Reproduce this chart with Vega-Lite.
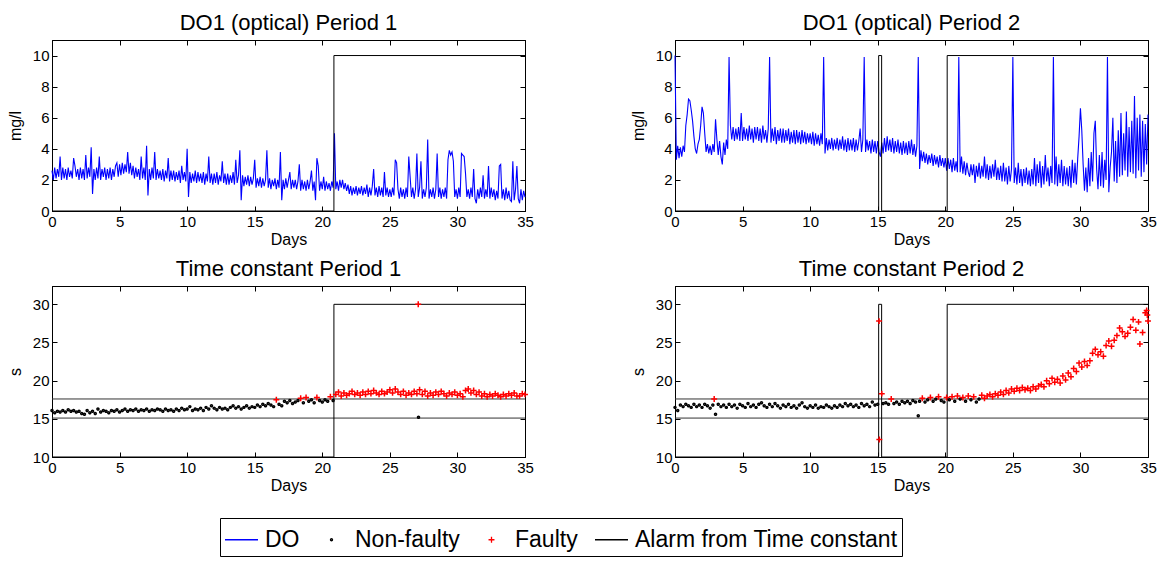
{
"$schema":"https://vega.github.io/schema/vega-lite/v6.json",
"background":"white",
"padding":{"left":6,"top":11,"right":5,"bottom":0},
"config":{
"font":"Liberation Sans",
"view":{"stroke":"#000","strokeWidth":1},
"axis":{"labelFont":"Liberation Sans","labelFontSize":15,"labelColor":"#000","titleFont":"Liberation Sans","titleFontSize":16,"titleFontWeight":"normal","titleColor":"#000","domainColor":"#000","domainWidth":1,"tickColor":"#000","tickSize":-5,"tickWidth":1,"labelPadding":8,"grid":false,"labelFlush":false,"labelOverlap":false},
"axisBottom":{"titleBaseline":"alphabetic","titleY":33},
"axisLeft":{"titleX":-37,"titleBaseline":"middle"},
"title":{"font":"Liberation Sans","fontSize":22,"fontWeight":"normal","color":"#000","offset":5,"baseline":"alphabetic","anchor":"middle"}
},
"datasets":{
"do1":[{"d":0,"v":2.6},{"d":0.1,"v":2.0},{"d":0.2,"v":2.8},{"d":0.3,"v":2.1},{"d":0.4,"v":2.7},{"d":0.5,"v":2.2},{"d":0.6,"v":3.5},{"d":0.7,"v":2.0},{"d":0.8,"v":2.8},{"d":0.9,"v":2.1},
{"d":1,"v":2.7},{"d":1.1,"v":2.0},{"d":1.2,"v":2.8},{"d":1.3,"v":2.2},{"d":1.4,"v":2.6},{"d":1.5,"v":2.1},{"d":1.6,"v":3.4},{"d":1.7,"v":2.9},{"d":1.8,"v":2.2},{"d":1.9,"v":2.7},
{"d":2,"v":2.0},{"d":2.1,"v":2.8},{"d":2.2,"v":2.1},{"d":2.3,"v":2.7},{"d":2.4,"v":2.0},{"d":2.5,"v":3.6},{"d":2.6,"v":2.1},{"d":2.7,"v":2.8},{"d":2.8,"v":2.2},{"d":2.9,"v":4.1},
{"d":3,"v":1.1},{"d":3.1,"v":2.7},{"d":3.2,"v":2.0},{"d":3.3,"v":2.8},{"d":3.4,"v":2.1},{"d":3.5,"v":3.5},{"d":3.6,"v":2.0},{"d":3.7,"v":2.7},{"d":3.8,"v":2.2},{"d":3.9,"v":2.8},
{"d":4,"v":2.0},{"d":4.1,"v":2.7},{"d":4.2,"v":2.1},{"d":4.3,"v":2.8},{"d":4.4,"v":2.0},{"d":4.5,"v":2.7},{"d":4.6,"v":2.2},{"d":4.7,"v":2.9},{"d":4.8,"v":3.1},{"d":4.9,"v":2.2},
{"d":5,"v":3.0},{"d":5.1,"v":2.3},{"d":5.2,"v":3.1},{"d":5.3,"v":2.4},{"d":5.4,"v":3.0},{"d":5.5,"v":2.5},{"d":5.6,"v":3.8},{"d":5.7,"v":2.4},{"d":5.8,"v":3.1},{"d":5.9,"v":2.3},
{"d":6,"v":2.9},{"d":6.1,"v":2.1},{"d":6.2,"v":2.8},{"d":6.3,"v":2.2},{"d":6.4,"v":2.7},{"d":6.5,"v":2.0},{"d":6.6,"v":3.5},{"d":6.7,"v":2.1},{"d":6.8,"v":2.8},{"d":6.9,"v":2.0},
{"d":7,"v":4.2},{"d":7.1,"v":1.0},{"d":7.2,"v":2.7},{"d":7.3,"v":2.0},{"d":7.4,"v":2.8},{"d":7.5,"v":2.1},{"d":7.6,"v":3.8},{"d":7.7,"v":2.0},{"d":7.8,"v":2.7},{"d":7.9,"v":2.1},
{"d":8,"v":2.6},{"d":8.1,"v":2.0},{"d":8.2,"v":2.7},{"d":8.3,"v":1.9},{"d":8.4,"v":2.6},{"d":8.5,"v":2.1},{"d":8.6,"v":3.4},{"d":8.7,"v":1.9},{"d":8.8,"v":2.6},{"d":8.9,"v":2.0},
{"d":9,"v":2.6},{"d":9.1,"v":1.9},{"d":9.2,"v":2.5},{"d":9.3,"v":2.0},{"d":9.4,"v":2.6},{"d":9.5,"v":1.8},{"d":9.6,"v":2.9},{"d":9.7,"v":2.0},{"d":9.8,"v":2.5},{"d":9.9,"v":1.9},
{"d":10,"v":4.0},{"d":10.1,"v":0.9},{"d":10.2,"v":2.5},{"d":10.3,"v":1.8},{"d":10.4,"v":2.4},{"d":10.5,"v":1.9},{"d":10.6,"v":2.6},{"d":10.7,"v":1.8},{"d":10.8,"v":2.5},{"d":10.9,"v":1.9},
{"d":11,"v":2.4},{"d":11.1,"v":1.8},{"d":11.2,"v":2.5},{"d":11.3,"v":1.7},{"d":11.4,"v":2.4},{"d":11.5,"v":1.9},{"d":11.6,"v":3.5},{"d":11.7,"v":1.8},{"d":11.8,"v":2.4},{"d":11.9,"v":1.7},
{"d":12,"v":2.4},{"d":12.1,"v":1.8},{"d":12.2,"v":2.5},{"d":12.3,"v":1.7},{"d":12.4,"v":2.3},{"d":12.5,"v":1.9},{"d":12.6,"v":3.2},{"d":12.7,"v":1.8},{"d":12.8,"v":2.4},{"d":12.9,"v":1.7},
{"d":13,"v":2.4},{"d":13.1,"v":1.7},{"d":13.2,"v":2.3},{"d":13.3,"v":1.8},{"d":13.4,"v":2.5},{"d":13.5,"v":1.7},{"d":13.6,"v":3.3},{"d":13.7,"v":1.8},{"d":13.8,"v":2.3},{"d":13.9,"v":3.9},
{"d":14,"v":0.7},{"d":14.1,"v":2.3},{"d":14.2,"v":1.6},{"d":14.3,"v":2.2},{"d":14.4,"v":1.7},{"d":14.5,"v":2.3},{"d":14.6,"v":1.6},{"d":14.7,"v":2.2},{"d":14.8,"v":1.7},{"d":14.9,"v":2.1},
{"d":15,"v":3.3},{"d":15.1,"v":1.5},{"d":15.2,"v":2.1},{"d":15.3,"v":1.6},{"d":15.4,"v":2.2},{"d":15.5,"v":1.5},{"d":15.6,"v":2.1},{"d":15.7,"v":1.6},{"d":15.8,"v":2.0},{"d":15.9,"v":3.9},
{"d":16,"v":1.5},{"d":16.1,"v":2.1},{"d":16.2,"v":1.4},{"d":16.3,"v":2.0},{"d":16.4,"v":1.6},{"d":16.5,"v":2.1},{"d":16.6,"v":1.4},{"d":16.7,"v":2.0},{"d":16.8,"v":1.5},{"d":16.9,"v":3.8},
{"d":17,"v":0.7},{"d":17.1,"v":2.0},{"d":17.2,"v":1.4},{"d":17.3,"v":2.1},{"d":17.4,"v":1.5},{"d":17.5,"v":2.0},{"d":17.6,"v":2.5},{"d":17.7,"v":1.4},{"d":17.8,"v":2.0},{"d":17.9,"v":1.5},
{"d":18,"v":2.0},{"d":18.1,"v":1.4},{"d":18.2,"v":1.9},{"d":18.3,"v":3.0},{"d":18.4,"v":1.3},{"d":18.5,"v":2.0},{"d":18.6,"v":1.4},{"d":18.7,"v":1.9},{"d":18.8,"v":1.3},{"d":18.9,"v":2.0},
{"d":19,"v":1.4},{"d":19.1,"v":1.9},{"d":19.2,"v":2.6},{"d":19.3,"v":1.3},{"d":19.4,"v":1.9},{"d":19.5,"v":0.7},{"d":19.6,"v":3.4},{"d":19.7,"v":2.9},{"d":19.8,"v":1.3},{"d":19.9,"v":1.9},
{"d":20,"v":1.4},{"d":20.1,"v":2.2},{"d":20.2,"v":1.3},{"d":20.3,"v":1.9},{"d":20.4,"v":1.4},{"d":20.5,"v":1.8},{"d":20.6,"v":1.3},{"d":20.7,"v":1.9},{"d":20.8,"v":1.5},{"d":20.9,"v":5.0},
{"d":21,"v":1.4},{"d":21.1,"v":1.9},{"d":21.2,"v":1.3},{"d":21.3,"v":2.0},{"d":21.4,"v":1.5},{"d":21.5,"v":2.0},{"d":21.6,"v":1.4},{"d":21.7,"v":1.8},{"d":21.8,"v":1.3},{"d":21.9,"v":1.7},
{"d":22,"v":1.1},{"d":22.1,"v":1.6},{"d":22.2,"v":1.0},{"d":22.3,"v":1.5},{"d":22.4,"v":1.1},{"d":22.5,"v":1.6},{"d":22.6,"v":1.0},{"d":22.7,"v":1.5},{"d":22.8,"v":1.1},{"d":22.9,"v":1.6},
{"d":23,"v":1.0},{"d":23.1,"v":1.5},{"d":23.2,"v":1.1},{"d":23.3,"v":1.7},{"d":23.4,"v":0.9},{"d":23.5,"v":1.5},{"d":23.6,"v":1.0},{"d":23.7,"v":1.6},{"d":23.8,"v":2.7},{"d":23.9,"v":1.0},
{"d":24,"v":1.5},{"d":24.1,"v":0.9},{"d":24.2,"v":1.6},{"d":24.3,"v":1.0},{"d":24.4,"v":1.5},{"d":24.5,"v":0.9},{"d":24.6,"v":2.5},{"d":24.7,"v":1.0},{"d":24.8,"v":1.5},{"d":24.9,"v":0.9},
{"d":25,"v":1.4},{"d":25.1,"v":0.9},{"d":25.2,"v":1.5},{"d":25.3,"v":1.0},{"d":25.4,"v":3.3},{"d":25.5,"v":3.1},{"d":25.6,"v":1.4},{"d":25.7,"v":0.8},{"d":25.8,"v":1.5},{"d":25.9,"v":0.9},
{"d":26,"v":1.4},{"d":26.1,"v":0.8},{"d":26.2,"v":1.5},{"d":26.3,"v":0.9},{"d":26.4,"v":3.5},{"d":26.5,"v":2.2},{"d":26.6,"v":0.9},{"d":26.7,"v":1.5},{"d":26.8,"v":0.8},{"d":26.9,"v":1.4},
{"d":27,"v":3.7},{"d":27.1,"v":0.9},{"d":27.2,"v":1.5},{"d":27.3,"v":3.2},{"d":27.4,"v":0.8},{"d":27.5,"v":1.4},{"d":27.6,"v":0.9},{"d":27.7,"v":1.5},{"d":27.8,"v":4.6},{"d":27.9,"v":0.8},
{"d":28,"v":1.4},{"d":28.1,"v":0.9},{"d":28.2,"v":1.5},{"d":28.3,"v":0.8},{"d":28.4,"v":1.4},{"d":28.5,"v":3.7},{"d":28.6,"v":0.9},{"d":28.7,"v":1.5},{"d":28.8,"v":0.8},{"d":28.9,"v":1.4},
{"d":29,"v":0.9},{"d":29.1,"v":1.5},{"d":29.2,"v":0.8},{"d":29.3,"v":3.3},{"d":29.4,"v":3.9},{"d":29.5,"v":3.6},{"d":29.6,"v":3.8},{"d":29.7,"v":3.2},{"d":29.8,"v":0.9},{"d":29.9,"v":1.4},
{"d":30,"v":0.8},{"d":30.1,"v":1.5},{"d":30.2,"v":0.9},{"d":30.3,"v":3.7},{"d":30.4,"v":3.6},{"d":30.5,"v":3.5},{"d":30.6,"v":2.4},{"d":30.7,"v":0.9},{"d":30.8,"v":1.4},{"d":30.9,"v":0.8},
{"d":31,"v":1.5},{"d":31.1,"v":0.9},{"d":31.2,"v":2.7},{"d":31.3,"v":0.8},{"d":31.4,"v":0.5},{"d":31.5,"v":1.4},{"d":31.6,"v":0.8},{"d":31.7,"v":1.5},{"d":31.8,"v":0.9},{"d":31.9,"v":2.3},
{"d":32,"v":0.8},{"d":32.1,"v":1.4},{"d":32.2,"v":0.9},{"d":32.3,"v":2.9},{"d":32.4,"v":0.8},{"d":32.5,"v":1.5},{"d":32.6,"v":0.9},{"d":32.7,"v":1.4},{"d":32.8,"v":0.7},{"d":32.9,"v":1.3},
{"d":33,"v":0.8},{"d":33.1,"v":2.9},{"d":33.2,"v":3.0},{"d":33.3,"v":0.8},{"d":33.4,"v":1.4},{"d":33.5,"v":0.7},{"d":33.6,"v":1.5},{"d":33.7,"v":0.8},{"d":33.8,"v":1.3},{"d":33.9,"v":0.7},
{"d":34,"v":0.6},{"d":34.1,"v":3.2},{"d":34.2,"v":0.7},{"d":34.3,"v":1.4},{"d":34.4,"v":2.9},{"d":34.5,"v":0.8},{"d":34.6,"v":0.5},{"d":34.7,"v":1.4},{"d":34.8,"v":0.7},{"d":34.9,"v":1.3},{"d":35,"v":0.9}],
"do2":[{"d":0,"v":10},{"d":0.1,"v":3.3},{"d":0.2,"v":4.2},{"d":0.3,"v":3.4},{"d":0.4,"v":4.1},{"d":0.5,"v":3.5},{"d":0.6,"v":4.2},{"d":0.7,"v":3.8},{"d":0.8,"v":5.5},{"d":0.9,"v":6.2},
{"d":1,"v":7.2},{"d":1.1,"v":7.1},{"d":1.2,"v":6.5},{"d":1.3,"v":5.8},{"d":1.4,"v":4.8},{"d":1.5,"v":4.0},{"d":1.6,"v":3.7},{"d":1.7,"v":4.3},{"d":1.8,"v":4.6},{"d":1.9,"v":5.5},
{"d":2,"v":6.7},{"d":2.1,"v":6.3},{"d":2.2,"v":5.0},{"d":2.3,"v":3.8},{"d":2.4,"v":4.3},{"d":2.5,"v":3.7},{"d":2.6,"v":4.2},{"d":2.7,"v":3.6},{"d":2.8,"v":4.3},{"d":2.9,"v":3.8},
{"d":3,"v":5.9},{"d":3.1,"v":4.6},{"d":3.2,"v":3.6},{"d":3.3,"v":4.5},{"d":3.4,"v":3.5},{"d":3.5,"v":3.0},{"d":3.6,"v":4.4},{"d":3.7,"v":3.6},{"d":3.8,"v":4.6},{"d":3.9,"v":4.0},
{"d":4,"v":9.9},{"d":4.1,"v":5.5},{"d":4.2,"v":4.6},{"d":4.3,"v":5.4},{"d":4.4,"v":4.5},{"d":4.5,"v":5.3},{"d":4.6,"v":4.6},{"d":4.7,"v":5.4},{"d":4.8,"v":4.5},{"d":4.9,"v":6.3},
{"d":5,"v":4.5},{"d":5.1,"v":5.4},{"d":5.2,"v":4.6},{"d":5.3,"v":5.3},{"d":5.4,"v":4.5},{"d":5.5,"v":5.5},{"d":5.6,"v":4.6},{"d":5.7,"v":5.3},{"d":5.8,"v":4.4},{"d":5.9,"v":5.4},
{"d":6,"v":4.6},{"d":6.1,"v":5.4},{"d":6.2,"v":4.5},{"d":6.3,"v":5.3},{"d":6.4,"v":4.4},{"d":6.5,"v":5.5},{"d":6.6,"v":4.6},{"d":6.7,"v":5.2},{"d":6.8,"v":4.4},{"d":6.9,"v":5.3},
{"d":7,"v":9.9},{"d":7.1,"v":4.4},{"d":7.2,"v":5.3},{"d":7.3,"v":4.5},{"d":7.4,"v":5.4},{"d":7.5,"v":4.3},{"d":7.6,"v":5.2},{"d":7.7,"v":4.5},{"d":7.8,"v":5.3},{"d":7.9,"v":4.4},
{"d":8,"v":5.3},{"d":8.1,"v":4.4},{"d":8.2,"v":5.2},{"d":8.3,"v":4.5},{"d":8.4,"v":5.3},{"d":8.5,"v":4.3},{"d":8.6,"v":5.1},{"d":8.7,"v":4.4},{"d":8.8,"v":5.2},{"d":8.9,"v":4.3},
{"d":9,"v":5.2},{"d":9.1,"v":4.4},{"d":9.2,"v":5.1},{"d":9.3,"v":4.3},{"d":9.4,"v":5.2},{"d":9.5,"v":4.4},{"d":9.6,"v":5.1},{"d":9.7,"v":4.3},{"d":9.8,"v":5.0},{"d":9.9,"v":4.4},
{"d":10,"v":5.0},{"d":10.1,"v":4.3},{"d":10.2,"v":5.1},{"d":10.3,"v":4.2},{"d":10.4,"v":5.0},{"d":10.5,"v":4.3},{"d":10.6,"v":4.9},{"d":10.7,"v":4.2},{"d":10.8,"v":5.0},{"d":10.9,"v":4.3},
{"d":11,"v":9.9},{"d":11.1,"v":3.7},{"d":11.2,"v":4.7},{"d":11.3,"v":3.9},{"d":11.4,"v":4.6},{"d":11.5,"v":4.0},{"d":11.6,"v":4.7},{"d":11.7,"v":3.9},{"d":11.8,"v":4.6},{"d":11.9,"v":4.0},
{"d":12,"v":4.7},{"d":12.1,"v":3.9},{"d":12.2,"v":4.6},{"d":12.3,"v":4.0},{"d":12.4,"v":4.8},{"d":12.5,"v":3.9},{"d":12.6,"v":4.6},{"d":12.7,"v":3.8},{"d":12.8,"v":4.7},{"d":12.9,"v":3.9},
{"d":13,"v":4.6},{"d":13.1,"v":3.9},{"d":13.2,"v":4.7},{"d":13.3,"v":3.8},{"d":13.4,"v":4.6},{"d":13.5,"v":3.9},{"d":13.6,"v":4.5},{"d":13.7,"v":5.3},{"d":13.8,"v":3.8},{"d":13.9,"v":4.6},
{"d":14,"v":9.9},{"d":14.1,"v":3.8},{"d":14.2,"v":4.6},{"d":14.3,"v":3.9},{"d":14.4,"v":4.5},{"d":14.5,"v":3.7},{"d":14.6,"v":4.6},{"d":14.7,"v":3.8},{"d":14.8,"v":4.5},{"d":14.9,"v":3.7},
{"d":15,"v":4.5},{"d":15.1,"v":3.8},{"d":15.2,"v":3.5},{"d":15.3,"v":4.4},{"d":15.4,"v":3.7},{"d":15.5,"v":4.7},{"d":15.6,"v":3.8},{"d":15.7,"v":4.8},{"d":15.8,"v":3.9},{"d":15.9,"v":4.6},
{"d":16,"v":3.8},{"d":16.1,"v":4.7},{"d":16.2,"v":3.7},{"d":16.3,"v":4.5},{"d":16.4,"v":3.8},{"d":16.5,"v":4.6},{"d":16.6,"v":3.7},{"d":16.7,"v":4.4},{"d":16.8,"v":3.6},{"d":16.9,"v":4.5},
{"d":17,"v":3.7},{"d":17.1,"v":4.4},{"d":17.2,"v":3.6},{"d":17.3,"v":4.5},{"d":17.4,"v":3.7},{"d":17.5,"v":4.6},{"d":17.6,"v":3.6},{"d":17.7,"v":4.3},{"d":17.8,"v":3.5},{"d":17.9,"v":4.2},
{"d":18,"v":9.9},{"d":18.1,"v":2.7},{"d":18.2,"v":3.9},{"d":18.3,"v":3.2},{"d":18.4,"v":3.8},{"d":18.5,"v":3.1},{"d":18.6,"v":3.7},{"d":18.7,"v":3.0},{"d":18.8,"v":3.6},{"d":18.9,"v":3.1},
{"d":19,"v":3.7},{"d":19.1,"v":2.9},{"d":19.2,"v":3.6},{"d":19.3,"v":3.0},{"d":19.4,"v":3.5},{"d":19.5,"v":2.8},{"d":19.6,"v":3.6},{"d":19.7,"v":2.9},{"d":19.8,"v":3.4},{"d":19.9,"v":2.8},
{"d":20,"v":3.4},{"d":20.1,"v":2.6},{"d":20.2,"v":3.4},{"d":20.3,"v":2.7},{"d":20.4,"v":3.3},{"d":20.5,"v":2.5},{"d":20.6,"v":3.4},{"d":20.7,"v":2.6},{"d":20.8,"v":3.2},{"d":20.9,"v":2.5},
{"d":21,"v":9.9},{"d":21.1,"v":2.5},{"d":21.2,"v":3.5},{"d":21.3,"v":2.4},{"d":21.4,"v":3.2},{"d":21.5,"v":2.3},{"d":21.6,"v":3.1},{"d":21.7,"v":2.5},{"d":21.8,"v":2.2},{"d":21.9,"v":3.0},
{"d":22,"v":2.3},{"d":22.1,"v":3.0},{"d":22.2,"v":1.8},{"d":22.3,"v":2.9},{"d":22.4,"v":2.2},{"d":22.5,"v":3.1},{"d":22.6,"v":2.1},{"d":22.7,"v":2.9},{"d":22.8,"v":2.2},{"d":22.9,"v":3.5},
{"d":23,"v":2.1},{"d":23.1,"v":3.0},{"d":23.2,"v":2.0},{"d":23.3,"v":2.9},{"d":23.4,"v":2.1},{"d":23.5,"v":3.0},{"d":23.6,"v":2.2},{"d":23.7,"v":3.3},{"d":23.8,"v":2.0},{"d":23.9,"v":2.8},
{"d":24,"v":2.0},{"d":24.1,"v":2.9},{"d":24.2,"v":1.9},{"d":24.3,"v":3.1},{"d":24.4,"v":1.9},{"d":24.5,"v":2.8},{"d":24.6,"v":1.7},{"d":24.7,"v":2.9},{"d":24.8,"v":1.9},{"d":24.9,"v":2.7},
{"d":25,"v":9.9},{"d":25.1,"v":1.8},{"d":25.2,"v":2.8},{"d":25.3,"v":1.7},{"d":25.4,"v":3.1},{"d":25.5,"v":1.8},{"d":25.6,"v":2.7},{"d":25.7,"v":1.6},{"d":25.8,"v":2.7},{"d":25.9,"v":1.8},
{"d":26,"v":2.8},{"d":26.1,"v":1.7},{"d":26.2,"v":2.6},{"d":26.3,"v":1.6},{"d":26.4,"v":2.7},{"d":26.5,"v":1.7},{"d":26.6,"v":3.4},{"d":26.7,"v":1.6},{"d":26.8,"v":3.0},{"d":26.9,"v":1.8},
{"d":27,"v":3.2},{"d":27.1,"v":1.5},{"d":27.2,"v":2.9},{"d":27.3,"v":1.7},{"d":27.4,"v":3.6},{"d":27.5,"v":1.9},{"d":27.6,"v":2.8},{"d":27.7,"v":1.6},{"d":27.8,"v":2.9},{"d":27.9,"v":1.8},
{"d":28,"v":9.9},{"d":28.1,"v":1.7},{"d":28.2,"v":3.5},{"d":28.3,"v":1.6},{"d":28.4,"v":3.0},{"d":28.5,"v":1.8},{"d":28.6,"v":3.3},{"d":28.7,"v":1.6},{"d":28.8,"v":2.9},{"d":28.9,"v":1.7},
{"d":29,"v":2.8},{"d":29.1,"v":1.6},{"d":29.2,"v":2.9},{"d":29.3,"v":1.5},{"d":29.4,"v":3.3},{"d":29.5,"v":1.8},{"d":29.6,"v":3.1},{"d":29.7,"v":1.7},{"d":29.8,"v":3.4},{"d":29.9,"v":4.8},
{"d":30,"v":6.6},{"d":30.1,"v":5.2},{"d":30.2,"v":3.0},{"d":30.3,"v":1.3},{"d":30.4,"v":2.8},{"d":30.5,"v":1.2},{"d":30.6,"v":3.4},{"d":30.7,"v":1.6},{"d":30.8,"v":3.8},{"d":30.9,"v":1.9},
{"d":31,"v":5.0},{"d":31.1,"v":5.8},{"d":31.2,"v":2.7},{"d":31.3,"v":1.4},{"d":31.4,"v":3.6},{"d":31.5,"v":1.6},{"d":31.6,"v":3.8},{"d":31.7,"v":1.5},{"d":31.8,"v":3.3},{"d":31.9,"v":2.0},
{"d":32,"v":9.9},{"d":32.1,"v":1.2},{"d":32.2,"v":2.8},{"d":32.3,"v":3.8},{"d":32.4,"v":6.0},{"d":32.5,"v":1.9},{"d":32.6,"v":4.5},{"d":32.7,"v":1.8},{"d":32.8,"v":5.2},{"d":32.9,"v":2.2},
{"d":33,"v":6.3},{"d":33.1,"v":2.3},{"d":33.2,"v":5.0},{"d":33.3,"v":2.6},{"d":33.4,"v":6.4},{"d":33.5,"v":2.2},{"d":33.6,"v":5.4},{"d":33.7,"v":2.5},{"d":33.8,"v":5.8},{"d":33.9,"v":2.4},
{"d":34,"v":7.4},{"d":34.1,"v":2.1},{"d":34.2,"v":6.0},{"d":34.3,"v":2.6},{"d":34.4,"v":6.2},{"d":34.5,"v":2.2},{"d":34.6,"v":5.8},{"d":34.7,"v":2.5},{"d":34.8,"v":5.6},{"d":34.9,"v":3.0},{"d":35,"v":6.2}],
"tc1":[{"d":0,"v":16.1,"s":"N"},{"d":0.2,"v":15.8,"s":"N"},{"d":0.4,"v":16.0,"s":"N"},{"d":0.6,"v":15.9,"s":"N"},{"d":0.8,"v":16.1,"s":"N"},{"d":1,"v":15.9,"s":"N"},{"d":1.2,"v":16.2,"s":"N"},{"d":1.4,"v":16.0,"s":"N"},{"d":1.6,"v":16.1,"s":"N"},{"d":1.8,"v":15.9,"s":"N"},
{"d":2,"v":16.0,"s":"N"},{"d":2.2,"v":15.7,"s":"N"},{"d":2.4,"v":15.6,"s":"N"},{"d":2.6,"v":16.1,"s":"N"},{"d":2.8,"v":15.8,"s":"N"},{"d":3,"v":16.0,"s":"N"},{"d":3.2,"v":15.7,"s":"N"},{"d":3.4,"v":16.3,"s":"N"},{"d":3.6,"v":15.9,"s":"N"},{"d":3.8,"v":16.1,"s":"N"},
{"d":4,"v":16.0,"s":"N"},{"d":4.2,"v":15.8,"s":"N"},{"d":4.4,"v":16.1,"s":"N"},{"d":4.6,"v":16.0,"s":"N"},{"d":4.8,"v":16.2,"s":"N"},{"d":5,"v":15.9,"s":"N"},{"d":5.2,"v":16.1,"s":"N"},{"d":5.4,"v":16.3,"s":"N"},{"d":5.6,"v":16.0,"s":"N"},{"d":5.8,"v":16.2,"s":"N"},
{"d":6,"v":16.1,"s":"N"},{"d":6.2,"v":16.3,"s":"N"},{"d":6.4,"v":16.0,"s":"N"},{"d":6.6,"v":16.2,"s":"N"},{"d":6.8,"v":16.1,"s":"N"},{"d":7,"v":16.3,"s":"N"},{"d":7.2,"v":16.0,"s":"N"},{"d":7.4,"v":16.2,"s":"N"},{"d":7.6,"v":16.1,"s":"N"},{"d":7.8,"v":16.3,"s":"N"},
{"d":8,"v":16.2,"s":"N"},{"d":8.2,"v":16.0,"s":"N"},{"d":8.4,"v":16.3,"s":"N"},{"d":8.6,"v":16.1,"s":"N"},{"d":8.8,"v":16.2,"s":"N"},{"d":9,"v":16.0,"s":"N"},{"d":9.2,"v":16.3,"s":"N"},{"d":9.4,"v":16.1,"s":"N"},{"d":9.6,"v":16.4,"s":"N"},{"d":9.8,"v":16.2,"s":"N"},
{"d":10,"v":16.3,"s":"N"},{"d":10.2,"v":16.6,"s":"N"},{"d":10.4,"v":16.1,"s":"N"},{"d":10.6,"v":16.3,"s":"N"},{"d":10.8,"v":16.2,"s":"N"},{"d":11,"v":16.4,"s":"N"},{"d":11.2,"v":16.1,"s":"N"},{"d":11.4,"v":16.5,"s":"N"},{"d":11.6,"v":16.3,"s":"N"},{"d":11.8,"v":16.7,"s":"N"},
{"d":12,"v":16.4,"s":"N"},{"d":12.2,"v":16.2,"s":"N"},{"d":12.4,"v":16.5,"s":"N"},{"d":12.6,"v":16.3,"s":"N"},{"d":12.8,"v":16.4,"s":"N"},{"d":13,"v":16.2,"s":"N"},{"d":13.2,"v":16.5,"s":"N"},{"d":13.4,"v":16.7,"s":"N"},{"d":13.6,"v":16.4,"s":"N"},{"d":13.8,"v":16.6,"s":"N"},
{"d":14,"v":16.3,"s":"N"},{"d":14.2,"v":16.5,"s":"N"},{"d":14.4,"v":16.7,"s":"N"},{"d":14.6,"v":16.4,"s":"N"},{"d":14.8,"v":16.6,"s":"N"},{"d":15,"v":16.5,"s":"N"},{"d":15.2,"v":16.8,"s":"N"},{"d":15.4,"v":16.6,"s":"N"},{"d":15.6,"v":16.9,"s":"N"},{"d":15.8,"v":16.7,"s":"N"},
{"d":16,"v":17.0,"s":"N"},{"d":16.2,"v":16.8,"s":"N"},{"d":16.4,"v":16.6,"s":"N"},{"d":16.6,"v":17.5,"s":"F"},{"d":16.8,"v":16.9,"s":"N"},{"d":17,"v":16.7,"s":"N"},{"d":17.2,"v":17.3,"s":"N"},{"d":17.4,"v":17.1,"s":"N"},{"d":17.6,"v":17.4,"s":"N"},{"d":17.8,"v":17.0,"s":"N"},
{"d":18,"v":17.2,"s":"N"},{"d":18.2,"v":17.4,"s":"N"},{"d":18.4,"v":17.7,"s":"F"},{"d":18.6,"v":17.1,"s":"N"},{"d":18.8,"v":17.8,"s":"F"},{"d":19,"v":17.3,"s":"N"},{"d":19.2,"v":17.5,"s":"N"},{"d":19.4,"v":17.1,"s":"N"},{"d":19.6,"v":17.8,"s":"F"},{"d":19.8,"v":17.4,"s":"N"},
{"d":20,"v":17.2,"s":"N"},{"d":20.2,"v":17.5,"s":"N"},{"d":20.4,"v":17.3,"s":"N"},{"d":20.6,"v":17.9,"s":"F"},{"d":20.8,"v":17.4,"s":"N"},{"d":21,"v":18.2,"s":"F"},{"d":21.2,"v":18.5,"s":"F"},{"d":21.4,"v":18.0,"s":"F"},{"d":21.6,"v":18.4,"s":"F"},{"d":21.8,"v":18.1,"s":"F"},
{"d":22,"v":18.3,"s":"F"},{"d":22.2,"v":18.6,"s":"F"},{"d":22.4,"v":18.2,"s":"F"},{"d":22.6,"v":18.4,"s":"F"},{"d":22.8,"v":18.1,"s":"F"},{"d":23,"v":18.5,"s":"F"},{"d":23.2,"v":18.2,"s":"F"},{"d":23.4,"v":18.6,"s":"F"},{"d":23.6,"v":18.3,"s":"F"},{"d":23.8,"v":18.7,"s":"F"},
{"d":24,"v":18.4,"s":"F"},{"d":24.2,"v":18.2,"s":"F"},{"d":24.4,"v":18.6,"s":"F"},{"d":24.6,"v":18.3,"s":"F"},{"d":24.8,"v":18.5,"s":"F"},{"d":25,"v":18.8,"s":"F"},{"d":25.2,"v":18.4,"s":"F"},{"d":25.4,"v":18.9,"s":"F"},{"d":25.6,"v":18.5,"s":"F"},{"d":25.8,"v":18.2,"s":"F"},
{"d":26,"v":18.6,"s":"F"},{"d":26.2,"v":18.1,"s":"F"},{"d":26.4,"v":18.4,"s":"F"},{"d":26.6,"v":18.2,"s":"F"},{"d":26.8,"v":18.6,"s":"F"},{"d":27,"v":18.3,"s":"F"},{"d":27.1,"v":30.0,"s":"F"},{"d":27.12,"v":15.2,"s":"N"},{"d":27.2,"v":18.8,"s":"F"},{"d":27.4,"v":18.2,"s":"F"},{"d":27.6,"v":18.6,"s":"F"},{"d":27.8,"v":18.0,"s":"F"},
{"d":28,"v":18.4,"s":"F"},{"d":28.2,"v":18.1,"s":"F"},{"d":28.4,"v":18.5,"s":"F"},{"d":28.6,"v":18.2,"s":"F"},{"d":28.8,"v":18.6,"s":"F"},{"d":29,"v":18.3,"s":"F"},{"d":29.2,"v":18.0,"s":"F"},{"d":29.4,"v":18.4,"s":"F"},{"d":29.6,"v":18.2,"s":"F"},{"d":29.8,"v":18.5,"s":"F"},
{"d":30,"v":18.1,"s":"F"},{"d":30.2,"v":18.3,"s":"F"},{"d":30.4,"v":17.9,"s":"F"},{"d":30.6,"v":18.7,"s":"F"},{"d":30.8,"v":18.9,"s":"F"},{"d":31,"v":18.4,"s":"F"},{"d":31.2,"v":18.7,"s":"F"},{"d":31.4,"v":18.2,"s":"F"},{"d":31.6,"v":18.5,"s":"F"},{"d":31.8,"v":18.0,"s":"F"},
{"d":32,"v":18.3,"s":"F"},{"d":32.2,"v":17.9,"s":"F"},{"d":32.4,"v":18.2,"s":"F"},{"d":32.6,"v":18.0,"s":"F"},{"d":32.8,"v":18.3,"s":"F"},{"d":33,"v":18.1,"s":"F"},{"d":33.2,"v":17.9,"s":"F"},{"d":33.4,"v":18.2,"s":"F"},{"d":33.6,"v":18.0,"s":"F"},{"d":33.8,"v":18.3,"s":"F"},
{"d":34,"v":18.1,"s":"F"},{"d":34.2,"v":18.4,"s":"F"},{"d":34.4,"v":18.0,"s":"F"},{"d":34.6,"v":18.0,"s":"F"},{"d":34.8,"v":18.3,"s":"F"},{"d":35,"v":18.2,"s":"F"}],
"tc2":[{"d":0,"v":16.5,"s":"N"},{"d":0.2,"v":16.1,"s":"N"},{"d":0.4,"v":16.8,"s":"N"},{"d":0.6,"v":16.6,"s":"N"},{"d":0.8,"v":16.9,"s":"N"},{"d":1,"v":16.7,"s":"N"},{"d":1.2,"v":16.5,"s":"N"},{"d":1.4,"v":16.9,"s":"N"},{"d":1.6,"v":16.6,"s":"N"},{"d":1.8,"v":16.8,"s":"N"},
{"d":2,"v":16.5,"s":"N"},{"d":2.2,"v":16.9,"s":"N"},{"d":2.4,"v":16.7,"s":"N"},{"d":2.6,"v":16.4,"s":"N"},{"d":2.8,"v":16.8,"s":"N"},{"d":2.9,"v":17.6,"s":"F"},{"d":3,"v":15.6,"s":"N"},{"d":3.2,"v":16.9,"s":"N"},{"d":3.4,"v":16.6,"s":"N"},{"d":3.6,"v":16.8,"s":"N"},{"d":3.8,"v":16.5,"s":"N"},
{"d":4,"v":16.9,"s":"N"},{"d":4.2,"v":16.6,"s":"N"},{"d":4.4,"v":16.8,"s":"N"},{"d":4.6,"v":16.4,"s":"N"},{"d":4.8,"v":16.9,"s":"N"},{"d":5,"v":16.7,"s":"N"},{"d":5.2,"v":16.5,"s":"N"},{"d":5.4,"v":17.0,"s":"N"},{"d":5.6,"v":16.6,"s":"N"},{"d":5.8,"v":16.8,"s":"N"},
{"d":6,"v":16.5,"s":"N"},{"d":6.2,"v":16.9,"s":"N"},{"d":6.4,"v":17.1,"s":"N"},{"d":6.6,"v":16.7,"s":"N"},{"d":6.8,"v":16.5,"s":"N"},{"d":7,"v":16.9,"s":"N"},{"d":7.2,"v":16.6,"s":"N"},{"d":7.4,"v":17.0,"s":"N"},{"d":7.6,"v":16.7,"s":"N"},{"d":7.8,"v":16.4,"s":"N"},
{"d":8,"v":16.8,"s":"N"},{"d":8.2,"v":16.6,"s":"N"},{"d":8.4,"v":16.9,"s":"N"},{"d":8.6,"v":16.5,"s":"N"},{"d":8.8,"v":16.7,"s":"N"},{"d":9,"v":16.4,"s":"N"},{"d":9.2,"v":16.8,"s":"N"},{"d":9.4,"v":17.1,"s":"N"},{"d":9.6,"v":16.6,"s":"N"},{"d":9.8,"v":16.4,"s":"N"},
{"d":10,"v":16.7,"s":"N"},{"d":10.2,"v":16.5,"s":"N"},{"d":10.4,"v":16.8,"s":"N"},{"d":10.6,"v":16.4,"s":"N"},{"d":10.8,"v":16.6,"s":"N"},{"d":11,"v":16.5,"s":"N"},{"d":11.2,"v":16.8,"s":"N"},{"d":11.4,"v":16.6,"s":"N"},{"d":11.6,"v":16.4,"s":"N"},{"d":11.8,"v":16.7,"s":"N"},
{"d":12,"v":16.5,"s":"N"},{"d":12.2,"v":16.8,"s":"N"},{"d":12.4,"v":16.6,"s":"N"},{"d":12.6,"v":17.0,"s":"N"},{"d":12.8,"v":16.7,"s":"N"},{"d":13,"v":16.9,"s":"N"},{"d":13.2,"v":16.6,"s":"N"},{"d":13.4,"v":16.8,"s":"N"},{"d":13.6,"v":16.5,"s":"N"},{"d":13.8,"v":17.0,"s":"N"},
{"d":14,"v":16.7,"s":"N"},{"d":14.2,"v":16.9,"s":"N"},{"d":14.4,"v":16.6,"s":"N"},{"d":14.6,"v":17.2,"s":"N"},{"d":14.8,"v":16.8,"s":"N"},{"d":15,"v":16.9,"s":"N"},{"d":15.1,"v":27.8,"s":"F"},{"d":15.12,"v":12.3,"s":"F"},{"d":15.3,"v":18.3,"s":"F"},{"d":15.4,"v":17.0,"s":"N"},{"d":15.6,"v":17.1,"s":"N"},{"d":15.8,"v":16.9,"s":"N"},
{"d":16,"v":17.6,"s":"F"},{"d":16.2,"v":17.0,"s":"N"},{"d":16.4,"v":17.2,"s":"N"},{"d":16.6,"v":16.9,"s":"N"},{"d":16.8,"v":17.3,"s":"N"},{"d":17,"v":17.1,"s":"N"},{"d":17.2,"v":17.3,"s":"N"},{"d":17.4,"v":17.0,"s":"N"},{"d":17.6,"v":17.4,"s":"N"},{"d":17.8,"v":17.2,"s":"N"},
{"d":18,"v":15.4,"s":"N"},{"d":18.1,"v":17.3,"s":"N"},{"d":18.3,"v":17.7,"s":"F"},{"d":18.5,"v":17.2,"s":"N"},{"d":18.7,"v":17.5,"s":"N"},{"d":18.9,"v":17.8,"s":"F"},{"d":19.1,"v":17.3,"s":"N"},{"d":19.3,"v":17.6,"s":"N"},{"d":19.5,"v":17.9,"s":"F"},{"d":19.7,"v":17.4,"s":"N"},{"d":19.9,"v":17.2,"s":"N"},
{"d":20.1,"v":17.8,"s":"F"},{"d":20.3,"v":17.5,"s":"N"},{"d":20.5,"v":17.9,"s":"F"},{"d":20.7,"v":17.3,"s":"N"},{"d":20.9,"v":18.0,"s":"F"},{"d":21.1,"v":17.6,"s":"N"},{"d":21.3,"v":17.8,"s":"F"},{"d":21.5,"v":17.3,"s":"N"},{"d":21.7,"v":18.0,"s":"F"},{"d":21.9,"v":17.5,"s":"N"},
{"d":22.1,"v":17.9,"s":"F"},{"d":22.3,"v":17.2,"s":"N"},{"d":22.5,"v":17.6,"s":"N"},{"d":22.7,"v":18.1,"s":"F"},{"d":22.9,"v":17.7,"s":"F"},{"d":23.1,"v":18.0,"s":"F"},{"d":23.3,"v":18.2,"s":"F"},{"d":23.5,"v":17.9,"s":"F"},{"d":23.7,"v":18.3,"s":"F"},{"d":23.9,"v":18.1,"s":"F"},
{"d":24.1,"v":18.5,"s":"F"},{"d":24.3,"v":18.2,"s":"F"},{"d":24.5,"v":18.7,"s":"F"},{"d":24.7,"v":18.4,"s":"F"},{"d":24.9,"v":18.9,"s":"F"},{"d":25.1,"v":18.6,"s":"F"},{"d":25.3,"v":19.0,"s":"F"},{"d":25.5,"v":18.7,"s":"F"},{"d":25.7,"v":19.1,"s":"F"},{"d":25.9,"v":18.8,"s":"F"},
{"d":26.1,"v":19.0,"s":"F"},{"d":26.3,"v":18.7,"s":"F"},{"d":26.5,"v":19.2,"s":"F"},{"d":26.7,"v":18.9,"s":"F"},{"d":26.9,"v":19.3,"s":"F"},{"d":27.1,"v":19.5,"s":"F"},{"d":27.3,"v":19.2,"s":"F"},{"d":27.5,"v":20.0,"s":"F"},{"d":27.7,"v":19.6,"s":"F"},{"d":27.9,"v":20.3,"s":"F"},
{"d":28.1,"v":19.8,"s":"F"},{"d":28.3,"v":20.2,"s":"F"},{"d":28.5,"v":19.7,"s":"F"},{"d":28.7,"v":20.6,"s":"F"},{"d":28.9,"v":20.1,"s":"F"},{"d":29.1,"v":21.0,"s":"F"},{"d":29.3,"v":20.5,"s":"F"},{"d":29.5,"v":21.6,"s":"F"},{"d":29.7,"v":21.2,"s":"F"},{"d":29.9,"v":22.3,"s":"F"},
{"d":30.1,"v":21.8,"s":"F"},{"d":30.3,"v":22.5,"s":"F"},{"d":30.5,"v":22.0,"s":"F"},{"d":30.7,"v":22.6,"s":"F"},{"d":30.9,"v":23.6,"s":"F"},{"d":31.1,"v":24.1,"s":"F"},{"d":31.3,"v":23.4,"s":"F"},{"d":31.5,"v":23.8,"s":"F"},{"d":31.7,"v":23.2,"s":"F"},{"d":31.9,"v":24.6,"s":"F"},
{"d":32.1,"v":25.2,"s":"F"},{"d":32.3,"v":24.5,"s":"F"},{"d":32.5,"v":25.3,"s":"F"},{"d":32.7,"v":25.9,"s":"F"},{"d":32.9,"v":26.9,"s":"F"},{"d":33.1,"v":26.4,"s":"F"},{"d":33.3,"v":25.8,"s":"F"},{"d":33.5,"v":26.2,"s":"F"},{"d":33.7,"v":27.0,"s":"F"},{"d":33.9,"v":28.0,"s":"F"},
{"d":34.1,"v":26.6,"s":"F"},{"d":34.3,"v":27.7,"s":"F"},{"d":34.4,"v":24.8,"s":"F"},{"d":34.6,"v":26.3,"s":"F"},{"d":34.8,"v":28.9,"s":"F"},{"d":34.9,"v":29.2,"s":"F"},{"d":34.95,"v":28.6,"s":"F"},{"d":35,"v":27.8,"s":"F"}],
"at1":[{"d":0,"v":0},{"d":20.86,"v":0},{"d":20.86,"v":10},{"d":35,"v":10}],
"at2":[{"d":0,"v":0},{"d":15.07,"v":0},{"d":15.07,"v":10},{"d":15.29,"v":10},{"d":15.29,"v":0},{"d":20.14,"v":0},{"d":20.14,"v":10},{"d":35,"v":10}],
"ab1":[{"d":0,"v":10},{"d":20.86,"v":10},{"d":20.86,"v":30},{"d":35,"v":30}],
"ab2":[{"d":0,"v":10},{"d":15.07,"v":10},{"d":15.07,"v":30},{"d":15.29,"v":30},{"d":15.29,"v":10},{"d":20.14,"v":10},{"d":20.14,"v":30},{"d":35,"v":30}],
"thr":[{"v":17.6},{"v":15.1}]
},
"bounds":"flush",
"spacing":{"row":75,"column":150},
"columns":2,
"concat":[
{"width":473,"height":171,"title":"DO1 (optical) Period 1",
"resolve":{"axis":{"x":"independent","y":"independent"}},
"layer":[
{"data":{"name":"do1"},"mark":{"type":"line","color":"#0000ff","strokeWidth":1.1},
"encoding":{"x":{"field":"d","type":"quantitative","title":"Days","scale":{"domain":[0,35],"nice":false},"axis":{"orient":"bottom","values":[0,5,10,15,20,25,30,35],"labelOverlap":false}},"y":{"field":"v","type":"quantitative","title":"mg/l","scale":{"domain":[0,11],"nice":false},"axis":{"orient":"left","values":[0,2,4,6,8,10],"labelOverlap":false}},"order":{"value":null}}},
{"data":{"name":"at1"},"mark":{"type":"line","color":"#000","strokeWidth":1},
"encoding":{"x":{"field":"d","type":"quantitative","title":null,"axis":{"orient":"top","values":[0,5,10,15,20,25,30,35],"labels":false}},"y":{"field":"v","type":"quantitative","title":null,"axis":{"orient":"right","values":[0,2,4,6,8,10],"labels":false}},"order":{"value":null}}}
]},
{"width":473,"height":171,"title":"DO1 (optical) Period 2",
"resolve":{"axis":{"x":"independent","y":"independent"}},
"layer":[
{"data":{"name":"do2"},"mark":{"type":"line","color":"#0000ff","strokeWidth":1.1},
"encoding":{"x":{"field":"d","type":"quantitative","title":"Days","scale":{"domain":[0,35],"nice":false},"axis":{"orient":"bottom","values":[0,5,10,15,20,25,30,35],"labelOverlap":false}},"y":{"field":"v","type":"quantitative","title":"mg/l","scale":{"domain":[0,11],"nice":false},"axis":{"orient":"left","values":[0,2,4,6,8,10],"labelOverlap":false}},"order":{"value":null}}},
{"data":{"name":"at2"},"mark":{"type":"line","color":"#000","strokeWidth":1},
"encoding":{"x":{"field":"d","type":"quantitative","title":null,"axis":{"orient":"top","values":[0,5,10,15,20,25,30,35],"labels":false}},"y":{"field":"v","type":"quantitative","title":null,"axis":{"orient":"right","values":[0,2,4,6,8,10],"labels":false}},"order":{"value":null}}}
]},
{"width":473,"height":171,"title":"Time constant Period 1",
"resolve":{"axis":{"x":"independent","y":"independent"}},
"layer":[
{"data":{"name":"thr"},"mark":{"type":"rule","color":"#333","strokeWidth":1},
"encoding":{"y":{"field":"v","type":"quantitative","title":"s","scale":{"domain":[10,32.4],"nice":false},"axis":{"orient":"left","values":[10,15,20,25,30],"labelOverlap":false}}}},
{"data":{"name":"ab1"},"mark":{"type":"line","color":"#000","strokeWidth":1},
"encoding":{"x":{"field":"d","type":"quantitative","title":"Days","scale":{"domain":[0,35],"nice":false},"axis":{"orient":"bottom","values":[0,5,10,15,20,25,30,35],"labelOverlap":false}},"y":{"field":"v","type":"quantitative","axis":null},"order":{"value":null}}},
{"data":{"name":"tc1"},"mark":{"type":"point","filled":false,"strokeWidth":1.5,"opacity":1,"size":1089},
"encoding":{"x":{"field":"d","type":"quantitative","title":null,"axis":{"orient":"top","values":[0,5,10,15,20,25,30,35],"labels":false}},"y":{"field":"v","type":"quantitative","title":null,"axis":{"orient":"right","values":[10,15,20,25,30],"labels":false}},
"color":{"field":"s","type":"nominal","scale":{"domain":["D","N","F","A"],"range":["#0000ff","#000000","#ff0000","#000000"]},
"legend":{"title":null,"orient":"none","legendX":168,"legendY":478,"direction":"horizontal","columns":4,"strokeColor":"#000","fillColor":"#fff","padding":4,"columnPadding":14,"labelOffset":6,"labelFontSize":23,"labelFont":"Liberation Sans","labelColor":"#000","labelLimit":600,"symbolSize":1089,"symbolStrokeWidth":1.3,"symbolOpacity":1,"labelExpr":"datum.label=='D'?'DO':datum.label=='N'?'Non-faulty':datum.label=='F'?'Faulty':'Alarm from Time constant'"}},
"shape":{"field":"s","type":"nominal","scale":{"domain":["D","N","F","A"],"range":["M-1,0H1","M-0.06,0A0.06,0.06,0,1,1,0.06,0A0.06,0.06,0,1,1,-0.06,0Z","M-0.18,0H0.18M0,-0.18V0.18","M-1,0H1"]},"legend":{"title":null}}}}
]},
{"width":473,"height":171,"title":"Time constant Period 2",
"resolve":{"axis":{"x":"independent","y":"independent"}},
"layer":[
{"data":{"name":"thr"},"mark":{"type":"rule","color":"#333","strokeWidth":1},
"encoding":{"y":{"field":"v","type":"quantitative","title":"s","scale":{"domain":[10,32.4],"nice":false},"axis":{"orient":"left","values":[10,15,20,25,30],"labelOverlap":false}}}},
{"data":{"name":"ab2"},"mark":{"type":"line","color":"#000","strokeWidth":1},
"encoding":{"x":{"field":"d","type":"quantitative","title":"Days","scale":{"domain":[0,35],"nice":false},"axis":{"orient":"bottom","values":[0,5,10,15,20,25,30,35],"labelOverlap":false}},"y":{"field":"v","type":"quantitative","axis":null},"order":{"value":null}}},
{"data":{"name":"tc2"},"mark":{"type":"point","filled":false,"strokeWidth":1.5,"opacity":1,"size":1089},
"encoding":{"x":{"field":"d","type":"quantitative","title":null,"axis":{"orient":"top","values":[0,5,10,15,20,25,30,35],"labels":false}},"y":{"field":"v","type":"quantitative","title":null,"axis":{"orient":"right","values":[10,15,20,25,30],"labels":false}},
"color":{"field":"s","type":"nominal","scale":{"domain":["D","N","F","A"],"range":["#0000ff","#000000","#ff0000","#000000"]},"legend":{"title":null,"orient":"none","legendX":168,"legendY":478,"direction":"horizontal","columns":4,"strokeColor":"#000","fillColor":"#fff","padding":4,"columnPadding":14,"labelOffset":6,"labelFontSize":23,"labelFont":"Liberation Sans","labelColor":"#000","labelLimit":600,"symbolSize":1089,"symbolStrokeWidth":1.3,"symbolOpacity":1,"labelExpr":"datum.label=='D'?'DO':datum.label=='N'?'Non-faulty':datum.label=='F'?'Faulty':'Alarm from Time constant'"}},
"shape":{"field":"s","type":"nominal","scale":{"domain":["D","N","F","A"],"range":["M-1,0H1","M-0.06,0A0.06,0.06,0,1,1,0.06,0A0.06,0.06,0,1,1,-0.06,0Z","M-0.18,0H0.18M0,-0.18V0.18","M-1,0H1"]},"legend":{"title":null}}}}
]}
]
}
